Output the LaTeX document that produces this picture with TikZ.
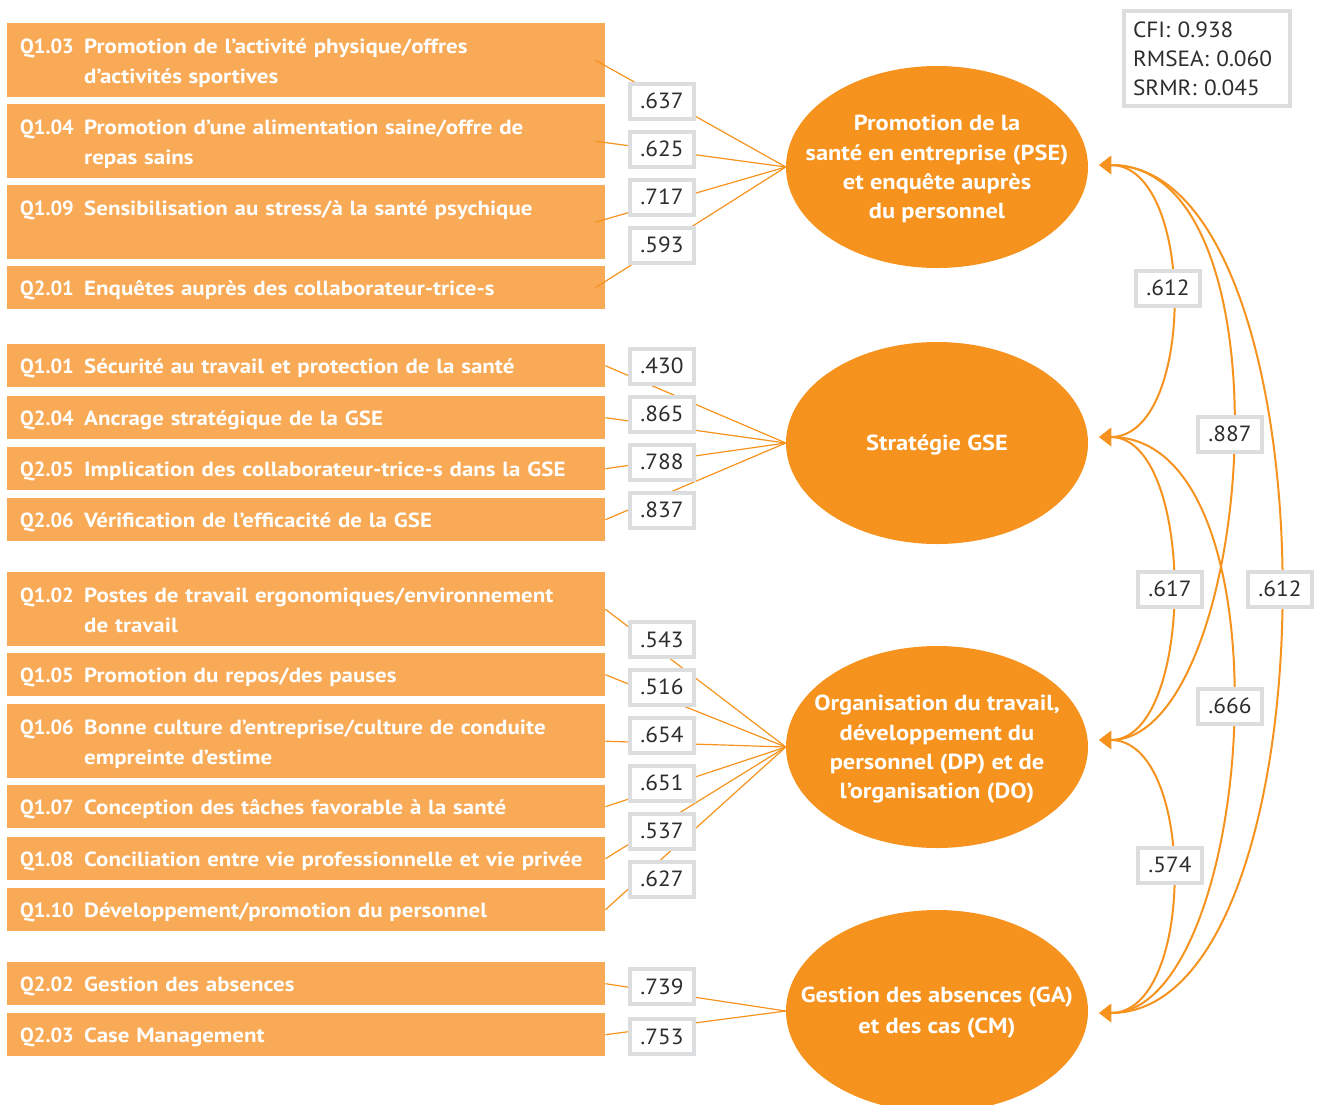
\documentclass[tikz,border=0pt]{standalone}
\usepackage{fontspec}
\usetikzlibrary{shapes.geometric,arrows.meta}
\newfontfamily\itemfont[FakeStretch=1.12,BoldFont={PT Sans Bold}]{PT Sans}
\newfontfamily\idfont[BoldFont={PT Sans Bold}]{PT Sans}
\newfontfamily\numfont[FakeStretch=1.06]{PT Sans}
\definecolor{itemfill}{RGB}{248,170,86}
\definecolor{latfill}{RGB}{246,147,30}
\definecolor{framegray}{RGB}{220,221,222}
\definecolor{numgray}{RGB}{45,45,45}
% line struts: fixed height and depth so every line sits on a regular grid
\newcommand\ls{\rule[-7pt]{0pt}{30pt}}
\newcommand\es{\rule[-7pt]{0pt}{29.3pt}}
\newcommand\qid[1]{\makebox[64pt][l]{\idfont\bfseries #1}}
\newcommand\cont{\hspace*{64pt}}
\begin{document}
\begin{tikzpicture}[x=1pt,y=-1pt,
  item/.style={fill=itemfill, anchor=north west, inner xsep=13pt, inner ysep=0pt,
    text width=572pt, align=left, text=white,
    font=\itemfont\bfseries\fontsize{20.5}{30}\selectfont},
  one/.style={item, minimum height=43pt},
  two/.style={item, minimum height=74pt},
  latent/.style={ellipse, fill=latfill, minimum width=302pt, minimum height=202pt,
    inner sep=-40pt, align=center, text=white,
    font=\itemfont\bfseries\fontsize{21.8}{29.3}\selectfont},
  load/.style={draw=latfill, line width=1.2pt},
  lab/.style={draw=framegray, line width=4pt, fill=white, minimum width=64pt,
    minimum height=35pt, inner sep=0pt, text=numgray,
    font=\numfont\fontsize{22}{22}\selectfont},
  cov/.style={draw=latfill, line width=2pt,
    {Triangle[length=12pt,width=18pt]}-{Triangle[length=12pt,width=18pt]}},
]
\useasboundingbox (0,0) rectangle (1322,1104);

% indicator boxes
\node[two] (i103) at (7,23)  {\qid{Q1.03}Promotion de l’activité physique/offres\ls\\\cont d’activités sportives\ls};
\node[two] (i104) at (7,104) {\qid{Q1.04}Promotion d’une alimentation saine/offre de\ls\\\cont repas sains\ls};
\node[two] (i109) at (7,185) {\qid{Q1.09}Sensibilisation au stress/à la santé psychique\ls\\\ls};
\node[one] (i201) at (7,266) {\qid{Q2.01}Enquêtes auprès des collaborateur-trice-s\ls};

\node[one] (i101) at (7,344) {\qid{Q1.01}Sécurité au travail et protection de la santé\ls};
\node[one] (i204) at (7,396) {\qid{Q2.04}Ancrage stratégique de la GSE\ls};
\node[one] (i205) at (7,447) {\qid{Q2.05}Implication des collaborateur-trice-s dans la GSE\ls};
\node[one] (i206) at (7,498) {\qid{Q2.06}Vérification de l’efficacité de la GSE\ls};

\node[two] (i102) at (7,572) {\qid{Q1.02}Postes de travail ergonomiques/environnement\ls\\\cont de travail\ls};
\node[one] (i105) at (7,653) {\qid{Q1.05}Promotion du repos/des pauses\ls};
\node[two] (i106) at (7,704) {\qid{Q1.06}Bonne culture d’entreprise/culture de conduite\ls\\\cont empreinte d’estime\ls};
\node[one] (i107) at (7,785) {\qid{Q1.07}Conception des tâches favorable à la santé\ls};
\node[one] (i108) at (7,837) {\qid{Q1.08}Conciliation entre vie professionnelle et vie privée\ls};
\node[one] (i110) at (7,888) {\qid{Q1.10}Développement/promotion du personnel\ls};

\node[one] (i202) at (7,962)  {\qid{Q2.02}Gestion des absences\ls};
\node[one] (i203) at (7,1013) {\qid{Q2.03}Case Management\ls};

% latent factors
\node[latent] (pse) at (937,167) {Promotion de la\es\\santé en entreprise (PSE)\es\\et enquête auprès\es\\du personnel\es};
\node[latent] (gse) at (937,443) {Stratégie GSE\es};
\node[latent] (org) at (937,747) {Organisation du travail,\es\\développement du\es\\personnel (DP) et de\es\\l’organisation (DO)\es};
\node[latent] (ga)  at (937,1011) {\raisebox{3pt}{\begin{tabular}{@{}c@{}}Gestion des absences (GA)\es\\et des cas (CM)\es\end{tabular}}};

% loadings
\foreach \i in {i103,i104,i109,i201}
  \draw[load] ([xshift=-10pt]\i.east) -- (pse.west);
\foreach \i in {i101,i204,i205,i206}
  \draw[load] (\i.east) -- (gse.west);
\foreach \i in {i102,i105,i106,i107,i108,i110}
  \draw[load] (\i.east) -- (org.west);
\foreach \i in {i202,i203}
  \draw[load] (\i.east) -- (ga.west);

\node[lab] (l103) at (662,101) {.637};
\node[lab] (l104) at (662,149) {.625};
\node[lab] (l109) at (662,197) {.717};
\node[lab] (l201) at (662,245) {.593};

\node[lab] (l101) at (662,366) {.430};
\node[lab] (l204) at (662,414) {.865};
\node[lab] (l205) at (662,462) {.788};
\node[lab] (l206) at (662,510) {.837};

\node[lab] (l102) at (662,639.5) {.543};
\node[lab] (l105) at (662,687) {.516};
\node[lab] (l106) at (662,735) {.654};
\node[lab] (l107) at (662,783) {.651};
\node[lab] (l108) at (662,831) {.537};
\node[lab] (l110) at (662,879) {.627};

\node[lab] (l202) at (662,986.5)  {.739};
\node[lab] (l203) at (662,1036.5) {.753};

% factor covariances
\coordinate (pseR) at ([xshift=11pt,yshift=2pt]pse.east);
\coordinate (gseR) at ([xshift=11pt,yshift=6pt]gse.east);
\coordinate (orgR) at ([xshift=11pt,yshift=7pt]org.east);
\coordinate (gaR)  at ([xshift=11pt,yshift=-2pt]ga.east);

\draw[cov] (pseR) .. controls (1196,165) and (1196,437) .. (gseR);
\draw[cov] (pseR) .. controls (1298,165) and (1253,740) .. (orgR);
\draw[cov] (pseR) .. controls (1340,165) and (1340,1013) .. (gaR);
\draw[cov] (gseR) .. controls (1196,437) and (1196,740) .. (orgR);
\draw[cov] (gseR) .. controls (1296,437) and (1255,1013) .. (gaR);
\draw[cov] (orgR) .. controls (1196,740) and (1196,1013) .. (gaR);

\node[lab] (c1) at (1168,288) {.612};
\node[lab] (c2) at (1230,434) {.887};
\node[lab] (c3) at (1280,589) {.612};
\node[lab] (c4) at (1170,589) {.617};
\node[lab] (c5) at (1230,706) {.666};
\node[lab] (c6) at (1170,865) {.574};

% fit indices
\node[draw=framegray, line width=4pt, fill=white, minimum width=166pt, minimum height=95pt,
  inner xsep=9pt, inner ysep=0pt, text width=148pt, align=left, text=numgray,
  font=\numfont\fontsize{22}{29}\selectfont] (fit) at (1207,58.5)
  {CFI: 0.938\\RMSEA: 0.060\\SRMR: 0.045};
\end{tikzpicture}
\end{document}
